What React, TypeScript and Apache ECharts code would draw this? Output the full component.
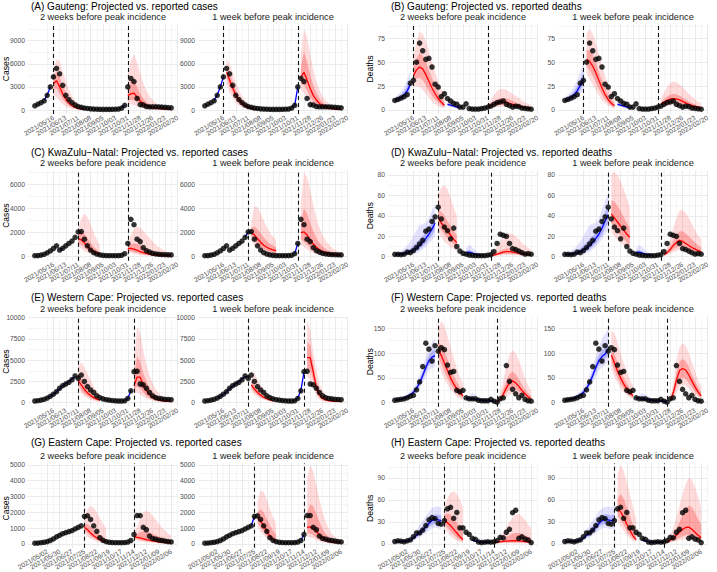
import React, { useEffect, useRef } from 'react';
import * as echarts from 'echarts';

type Seg = { start: number; rows: number[][] };
// rows: [median, lo50, hi50, lo95, hi95] (or [median] when no band is visible)
// week index 0 = 2021/04/04, one point per week (0..44)

const ticksAF = ['2021/05/16', '2021/06/13', '2021/07/11', '2021/08/08', '2021/09/05', '2021/10/03', '2021/10/31', '2021/11/28', '2021/12/26', '2022/01/23', '2022/02/20'];
const ticksGH = ['2021/05/02', '2021/05/30', '2021/06/27', '2021/07/25', '2021/08/22', '2021/09/19', '2021/10/17', '2021/11/14', '2021/12/12', '2022/01/09', '2022/02/06'];
const subTitles = ['2 weeks before peak incidence', '1 week before peak incidence'];

// ---------- reported data ----------
const A_reported = [550, 750, 950, 1200, 1900, 3000, 4300, 5400, 4700, 3200, 1900, 1350, 950, 650, 450, 350, 250, 200, 150, 120, 100, 90, 80, 80, 80, 90, 100, 120, 250, 600, 3000, 4100, 3700, 1500, 700, 650, 450, 420, 420, 420, 400, 380, 350, 320, 280];
const B_reported = [10, 11, 12.5, 14, 16, 28, 31, 50, 70, 62, 53, 54, 45, 27, 24, 14, 17, 12, 9.5, 7, 6, 3, 3, 6.5, 1.5, 1, 1, 1, 1.5, 2, 3, 4, 6, 7.7, 8.4, 9.4, 6, 4.5, 3, 4, 3.5, 2, 1.7, 1.2, 0.8];
const C_reported = [80, 90, 130, 200, 320, 480, 680, 900, 550, 700, 900, 1100, 1300, 1600, 2050, 2080, 1450, 900, 550, 330, 220, 150, 110, 90, 80, 80, 80, 90, 120, 250, 1100, 3100, 2650, 1450, 1250, 750, 500, 380, 280, 230, 200, 180, 170, 160, 150];
const D_reported = [2.3, 2.3, 2, 2.5, 4.5, 4, 6, 9, 12.5, 16, 25, 27, 34.5, 39, 48.5, 37, 29, 25.5, 17.5, 28, 10, 5.5, 3.3, 2.5, 1.6, 1.2, 1, 1, 1, 1, 1.5, 2, 5, 13, 22, 21, 20, 13, 8, 7, 5.5, 4, 2.6, 3, 2.5];
const E_reported = [200, 230, 300, 400, 550, 750, 1000, 1300, 1700, 2000, 2200, 2400, 2700, 3150, 2850, 3250, 2500, 1900, 1500, 1200, 800, 600, 450, 350, 300, 250, 220, 200, 200, 220, 500, 1400, 3650, 3700, 2200, 2100, 1700, 1200, 800, 600, 500, 450, 400, 380, 350];
const F_reported = [5, 6, 7, 8, 10, 13, 15, 26, 42, 73, 120, 108, 84, 115, 104, 111, 107, 76, 61, 63, 25, 22, 25, 10, 8, 8, 8, 5, 4, 4, 4, 7, 3, 1, 8, 10, 75, 43, 27, 18, 10, 15, 7, 4, 3];
const G_reported = [50, 60, 80, 110, 150, 220, 320, 450, 550, 650, 720, 780, 850, 950, 1050, 1150, 1750, 1780, 1550, 1150, 800, 400, 230, 150, 110, 90, 80, 80, 80, 90, 120, 220, 600, 1800, 1800, 1050, 900, 500, 350, 300, 250, 220, 180, 150, 130];
const H_reported = [3.4, 4.3, 3.8, 3, 4.3, 5.5, 10, 15, 15, 19, 25, 33, 36, 34.5, 28, 27, 32, 48, 50, 35, 43, 22, 22, 16, 13, 7.7, 6.4, 2.6, 2, 2.5, 3, 2.5, 3, 4.7, 9, 8.5, 16, 20, 42.6, 46, 7.7, 9.8, 6.8, 5.5, 2];

// ---------- (A) Gauteng cases ----------
const A2_fit1: Seg = { start: 3, rows: [[1250], [1950], [3000]] };
const A2_fit2: Seg = { start: 28, rows: [[250], [600]] };
const A2_proj1: Seg = { start: 6, rows: [[3400, 2700, 4300, 1900, 5200], [3800, 2800, 5000, 1700, 6600], [3000, 2100, 4300, 1200, 6300], [2100, 1400, 3200, 750, 5000], [1400, 900, 2300, 450, 3800], [900, 550, 1500, 270, 2700], [550, 320, 1000, 150, 1800], [330, 190, 650, 90, 1200], [200, 110, 400, 50, 800], [120, 70, 250, 30, 500], [80, 40, 170, 20, 350]] };
const A2_proj2: Seg = { start: 30, rows: [[1900, 1300, 2700, 800, 4500], [2100, 1300, 3800, 700, 6500], [2200, 1300, 4000, 650, 7300], [1700, 1000, 3000, 500, 6200], [1200, 700, 2100, 350, 4800], [850, 480, 1500, 240, 3500], [600, 330, 1050, 160, 2500], [430, 230, 750, 110, 1800], [320, 170, 550, 80, 1300], [240, 120, 400, 60, 950], [180, 90, 300, 45, 700], [140, 70, 230, 35, 520], [110, 55, 180, 28, 400], [90, 45, 140, 22, 300], [70, 35, 110, 18, 230]] };
const A1_fit1: Seg = { start: 3, rows: [[1250], [1950], [3000], [4300]] };
const A1_fit2: Seg = { start: 28, rows: [[250], [600], [3000]] };
const A1_proj1: Seg = { start: 7, rows: [[4900, 4200, 5700, 3300, 6600], [3900, 3100, 4800, 2300, 6000], [2900, 2200, 3700, 1500, 4800], [1950, 1450, 2600, 950, 3600], [1300, 920, 1800, 600, 2600], [850, 580, 1200, 370, 1800], [530, 360, 780, 230, 1200], [340, 220, 500, 140, 800], [210, 135, 320, 85, 520], [130, 85, 200, 50, 340], [80, 50, 130, 30, 220]] };
const A1_proj2: Seg = { start: 31, rows: [[4300, 3300, 5600, 2500, 7500], [4900, 3300, 7600, 2200, 10500], [3900, 2500, 6300, 1600, 9500], [2800, 1700, 4600, 1050, 7200], [1900, 1100, 3200, 680, 5200], [1300, 720, 2200, 440, 3700], [850, 470, 1500, 280, 2600], [570, 300, 1000, 180, 1800], [380, 200, 680, 120, 1250], [260, 130, 460, 78, 870], [180, 90, 310, 52, 600], [130, 62, 220, 36, 420], [95, 45, 150, 26, 300], [70, 33, 110, 19, 220]] };

// ---------- (B) Gauteng deaths ----------
const B2_fit1: Seg = { start: 0, rows: [[10, 8.5, 11.5, 7, 13], [11.5, 9.5, 13.5, 8, 16], [13, 11, 16, 9, 19], [16, 13, 20, 10, 24], [20, 16, 25, 13, 31], [27, 22, 33, 17, 42]] };
const B_fitMid: Seg = { start: 17, rows: [[6, 5, 7.5, 3.5, 10], [5, 4, 6.5, 3, 9], [4, 3, 5, 2, 7], [3, 2.3, 4, 1.5, 5.5], [2.5, 1.8, 3.2, 1.2, 4.5]] };
const B2_proj1: Seg = { start: 6, rows: [[36, 30, 44, 24, 55], [42, 33, 54, 25, 72], [45, 34, 60, 24, 82], [43, 31, 57, 21, 80], [37, 26, 50, 17, 72], [30, 20, 42, 13, 62], [23, 15, 33, 9, 50], [17, 11, 25, 6, 40], [12, 7.5, 18, 4, 30], [8, 5, 13, 2.5, 22], [5, 3, 9, 1.5, 16]] };
const B2_proj2: Seg = { start: 30, rows: [[3, 2.3, 4, 1.5, 6], [4.5, 3, 6.5, 2, 11], [6, 4, 9, 2.5, 16], [7.5, 5, 11, 3, 20], [8.5, 5.5, 12.5, 3.3, 22], [8.5, 5.5, 12.5, 3.3, 22], [8, 5, 12, 3, 21], [7, 4.5, 11, 2.6, 19], [6, 3.8, 9.5, 2.2, 17], [5, 3, 8, 1.8, 15], [4, 2.4, 6.5, 1.4, 12.5], [3.2, 1.9, 5.2, 1.1, 10], [2.5, 1.5, 4.2, 0.8, 8], [2, 1.1, 3.4, 0.6, 6.5], [1.5, 0.8, 2.7, 0.4, 5]] };
const B1_fit1: Seg = { start: 0, rows: [[10, 8.5, 11.5, 7, 13], [11.5, 9.5, 13.5, 8, 16], [13, 11, 16, 9, 19], [16, 13, 20, 10, 25], [20, 16, 25, 13, 31], [26, 21, 32, 17, 40], [32, 26, 40, 20, 50]] };
const B1_proj1: Seg = { start: 7, rows: [[53, 45, 62, 38, 80], [51, 42, 63, 33, 85], [46, 36, 58, 27, 80], [39, 29, 49, 21, 70], [31, 22, 40, 15, 58], [23, 16, 31, 10.5, 46], [16, 11, 23, 7, 35], [11, 7, 16, 4.5, 26], [7, 4.5, 11, 2.8, 19], [4.5, 2.8, 7.5, 1.6, 13]] };
const B1_proj2: Seg = { start: 31, rows: [[6, 4.5, 7.5, 3.5, 12], [8, 5.5, 11, 4, 18], [10, 6.5, 14, 4.5, 24], [11.5, 7.3, 16, 5, 28], [12, 7.5, 17, 5, 30], [11.5, 7.2, 16.5, 4.7, 29], [10.5, 6.5, 15, 4.2, 27], [9, 5.5, 13, 3.6, 24], [7.5, 4.5, 11, 2.9, 21], [6, 3.6, 9, 2.3, 17], [4.8, 2.8, 7.2, 1.8, 14], [3.8, 2.2, 5.7, 1.4, 11], [3, 1.7, 4.5, 1.1, 8.5], [2.3, 1.3, 3.5, 0.8, 6.5]] };

// ---------- (C) KwaZulu-Natal cases ----------
const C2_fit1: Seg = { start: 8, rows: [[560], [700]] };
const C2_proj1: Seg = { start: 14, rows: [[1500, 1150, 2000, 850, 2200], [1400, 1000, 2100, 650, 3200], [1150, 780, 1900, 480, 3550], [850, 560, 1550, 330, 3300], [600, 390, 1150, 220, 2700], [420, 270, 830, 150, 2000], [300, 185, 580, 100, 1400], [210, 125, 400, 65, 950]] };
const C2_proj2: Seg = { start: 30, rows: [[650, 480, 850, 350, 1100], [700, 450, 1050, 300, 1800], [620, 380, 1100, 240, 2300], [520, 300, 1050, 185, 2500], [420, 240, 930, 140, 2400], [340, 185, 800, 105, 2150], [270, 145, 660, 80, 1850], [220, 115, 540, 62, 1550], [180, 92, 440, 48, 1250], [150, 74, 360, 38, 1000], [120, 60, 290, 30, 800], [100, 48, 235, 24, 630], [85, 39, 190, 19, 500], [70, 32, 155, 15, 400], [60, 26, 125, 12, 320]] };
const C1_fit1: Seg = { start: 13, rows: [[1600], [2050]] };
const C1_fit2: Seg = { start: 29, rows: [[250], [1100]] };
const C1_proj1: Seg = { start: 15, rows: [[2000, 1650, 2400, 1350, 2900], [1800, 1350, 2500, 1000, 4200], [1500, 1050, 2300, 720, 4100], [1200, 800, 1950, 520, 3600], [950, 620, 1600, 390, 3000], [780, 490, 1300, 300, 2450], [650, 400, 1080, 240, 2000], [560, 330, 920, 200, 1650], [500, 290, 800, 170, 1400]] };
const C1_proj2: Seg = { start: 31, rows: [[2000, 1400, 3000, 1000, 4500], [2050, 1250, 4000, 800, 7000], [1800, 1000, 3600, 600, 6600], [1400, 750, 2800, 430, 5500], [1050, 540, 2100, 300, 4300], [780, 390, 1550, 215, 3200], [570, 280, 1150, 155, 2400], [420, 205, 850, 115, 1800], [320, 155, 630, 88, 1350], [250, 120, 480, 68, 1000], [200, 95, 370, 54, 760], [165, 78, 290, 44, 580], [140, 65, 230, 37, 450], [120, 55, 185, 31, 350]] };

// ---------- (D) KwaZulu-Natal deaths ----------
const D2_fit1: Seg = { start: 0, rows: [[2, 1.5, 2.5, 1, 3.5], [2.2, 1.6, 3, 1, 4.5], [2.5, 1.8, 3.5, 1.2, 6], [3, 2, 4.5, 1.3, 8], [3.8, 2.6, 6, 1.6, 11], [5, 3.3, 8, 2, 15], [6.5, 4.3, 11, 2.6, 20], [8.5, 5.8, 14, 3.5, 26], [11, 7.5, 17, 5, 31], [14, 10, 20, 7, 32], [18, 13, 24, 10, 33], [22, 17, 28, 13, 38], [27, 21, 34, 16, 45], [33, 26, 41, 20, 52]] };
const D_fitMid: Seg = { start: 23, rows: [[4, 3, 5.5, 2, 8], [4.5, 3.2, 6.5, 2, 12], [3.5, 2.5, 5, 1.6, 9], [2.5, 1.8, 3.5, 1.2, 6], [1.8, 1.3, 2.5, 0.9, 4], [1.3, 0.9, 1.8, 0.6, 3]] };
const D2_proj1: Seg = { start: 14, rows: [[38, 31, 46, 24, 60], [33, 26, 44, 19, 68], [29, 22, 40, 15, 70], [25, 18, 35, 12, 66], [21, 15, 30, 9.5, 58], [17, 12, 25, 7.5, 48], [14, 9.5, 21, 5.5, 40]] };
const D2_proj2: Seg = { start: 31, rows: [[1, 0.6, 1.5, 0.3, 2], [1.5, 0.9, 2.5, 0.5, 5], [2.5, 1.4, 4, 0.8, 10], [3.5, 2, 5.5, 1.1, 15], [4.5, 2.6, 7, 1.5, 19], [5, 3, 8, 1.7, 22], [5, 3, 8, 1.7, 23], [4.5, 2.7, 7.5, 1.5, 22], [4, 2.4, 7, 1.3, 20], [3.5, 2, 6, 1.1, 17], [3, 1.7, 5, 0.9, 14], [2.5, 1.4, 4.2, 0.7, 11], [2, 1.1, 3.4, 0.6, 9], [1.6, 0.9, 2.7, 0.5, 7]] };
const D1_fit1: Seg = { start: 0, rows: [[2, 1.5, 2.5, 1, 3.5], [2.2, 1.6, 3, 1, 4.5], [2.5, 1.8, 3.5, 1.2, 6], [3, 2, 4.5, 1.3, 8], [3.8, 2.6, 6, 1.6, 11], [5, 3.3, 8, 2, 15], [6.5, 4.3, 11, 2.6, 20], [8.5, 5.8, 14, 3.5, 26], [11, 7.5, 17, 5, 31], [14, 10, 20, 7, 32], [18, 13, 24, 10, 33], [22, 17, 28, 13, 38], [28, 21, 35, 17, 46], [35, 28, 44, 22, 55], [41, 33, 50, 26, 61]] };
const D1_proj1: Seg = { start: 15, rows: [[42, 33, 55, 24, 82], [38, 29, 54, 20, 83], [34, 25, 50, 16.5, 80], [30, 21, 45, 13.5, 74], [26, 17.5, 39, 11, 66], [22, 14, 33, 8.5, 57], [19, 11.5, 28, 6.5, 48]] };
const D1_proj2: Seg = { start: 32, rows: [[2, 1.3, 3, 0.8, 4], [4, 2.5, 6, 1.5, 9], [7, 4.5, 10, 2.8, 17], [11, 7, 16, 4.3, 28], [14, 9, 21, 5.5, 38], [16, 10.5, 25, 6.5, 45], [15, 10, 25, 6.5, 46], [13, 9, 23, 5.8, 43], [11, 7.5, 20, 5, 38], [9, 6.3, 17, 4.2, 32], [7.5, 5.2, 14, 3.4, 26], [6, 4.2, 11, 2.8, 21], [5, 3.4, 9, 2.2, 17]] };

// ---------- (E) Western Cape cases ----------
const E2_fit1: Seg = { start: 4, rows: [[560], [760], [1000], [1300], [1650], [1950], [2250], [2500], [2800], [3050]] };
const E2_fit2: Seg = { start: 29, rows: [[230], [500], [1400]] };
const E2_proj1: Seg = { start: 14, rows: [[2600, 2100, 3200, 1700, 4200], [2100, 1500, 2900, 1100, 4800], [1550, 1050, 2300, 750, 4200], [1150, 750, 1750, 520, 3400], [850, 530, 1300, 350, 2600], [600, 370, 950, 240, 1900], [430, 260, 680, 160, 1400], [300, 180, 480, 110, 1000]] };
const E2_proj2: Seg = { start: 32, rows: [[2000, 1500, 2800, 1100, 4500], [3000, 1900, 5500, 1200, 9000], [3000, 1700, 4800, 1000, 8200], [2100, 1200, 3500, 700, 6200], [1400, 800, 2500, 470, 4500], [950, 540, 1750, 320, 3200], [650, 370, 1250, 220, 2300], [450, 260, 880, 155, 1600], [330, 185, 620, 110, 1150], [250, 135, 450, 80, 820], [200, 100, 330, 60, 600], [160, 78, 250, 46, 450], [130, 60, 190, 36, 340]] };
const E1_fit1: Seg = { start: 4, rows: [[560], [760], [1000], [1300], [1650], [1950], [2250], [2500], [2800], [3050], [3150]] };
const E1_fit2: Seg = { start: 29, rows: [[230], [550], [1450], [3600]] };
const E1_proj1: Seg = { start: 15, rows: [[2100, 1700, 2600, 1350, 3700], [1600, 1250, 2100, 950, 3500], [1200, 900, 1600, 680, 2800], [880, 650, 1200, 480, 2100], [640, 460, 880, 340, 1550], [460, 330, 640, 240, 1150], [330, 235, 460, 170, 850], [240, 170, 330, 120, 620]] };
const E1_proj2: Seg = { start: 33, rows: [[5300, 4000, 7200, 3000, 9700], [5300, 3900, 6800, 2800, 8500], [3600, 2600, 4600, 1800, 6000], [1800, 1200, 2500, 800, 3800], [900, 560, 1400, 360, 2300], [500, 300, 800, 190, 1400], [330, 190, 520, 120, 900], [250, 140, 370, 90, 620], [200, 110, 280, 70, 450], [170, 95, 230, 60, 340], [150, 85, 190, 52, 270], [130, 75, 160, 45, 220]] };

// ---------- (F) Western Cape deaths ----------
const F2_fit1: Seg = { start: 0, rows: [[5, 4, 6, 3, 7.5], [6, 5, 7.5, 4, 9], [7.5, 6, 9, 5, 11], [9.5, 7.5, 11.5, 6, 14], [12, 10, 14.5, 8, 18], [16, 13, 19, 11, 23], [21, 17, 25, 14, 30], [29, 24, 34, 20, 40], [40, 34, 47, 28, 55], [55, 47, 63, 40, 73], [71, 62, 80, 53, 92], [85, 75, 96, 65, 110], [92, 81, 104, 70, 122], [95, 84, 108, 73, 130]] };
const F_fitMid2w: Seg = { start: 23, rows: [[9, 7.5, 11, 6, 14], [8.5, 7, 10.5, 5.5, 14], [8, 6.5, 10, 5, 20], [7, 5.5, 9, 4.3, 16], [6, 4.8, 7.5, 3.7, 11], [5, 4, 6.5, 3, 9], [4.5, 3.5, 5.5, 2.7, 7.5], [4, 3, 5, 2.3, 6.5], [3.5, 2.7, 4.5, 2, 6], [3, 2.3, 4, 1.7, 5]] };
const F2_proj1: Seg = { start: 14, rows: [[106, 92, 122, 78, 150], [95, 78, 117, 62, 165], [80, 63, 104, 48, 155], [65, 49, 88, 36, 135], [50, 37, 70, 26, 112], [38, 27, 55, 18, 90], [28, 19, 42, 12, 70], [20, 13, 31, 8, 52], [14, 9, 22, 5.5, 38]] };
const F2_proj2: Seg = { start: 33, rows: [[2, 1.3, 3, 0.8, 4], [7, 4.5, 11, 2.5, 18], [17, 11, 27, 6, 45], [30, 20, 45, 11, 75], [40, 27, 58, 16, 97], [44, 30, 63, 18, 106], [40, 27, 58, 16, 100], [33, 22, 48, 13, 86], [25, 16, 37, 9.5, 68], [18, 11.5, 27, 6.8, 50], [12, 7.5, 19, 4.5, 35], [8, 5, 13, 3, 24]] };
const F1_fit1: Seg = { start: 0, rows: [[5, 4, 6, 3, 7.5], [6, 5, 7.5, 4, 9], [7.5, 6, 9, 5, 11], [9.5, 7.5, 11.5, 6, 14], [12, 10, 14.5, 8, 18], [16, 13, 19, 11, 23], [21, 17, 25, 14, 30], [29, 24, 34, 20, 40], [40, 34, 47, 28, 55], [55, 47, 63, 40, 73], [71, 62, 80, 53, 92], [85, 75, 96, 65, 112], [93, 82, 105, 71, 128], [98, 87, 110, 76, 140], [108, 96, 121, 84, 148]] };
const F_fitMid1w: Seg = { start: 23, rows: [[9, 7.5, 11, 6, 14], [8.5, 7, 10.5, 5.5, 14], [8, 6.5, 10, 5, 20], [7, 5.5, 9, 4.3, 16], [6, 4.8, 7.5, 3.7, 11], [5, 4, 6.5, 3, 9], [4.5, 3.5, 5.5, 2.7, 7.5], [4, 3, 5, 2.3, 6.5], [3.5, 2.7, 4.5, 2, 6], [3, 2.3, 4, 1.7, 5], [2.5, 1.8, 3.5, 1.3, 4.5]] };
const F1_proj1: Seg = { start: 15, rows: [[96, 82, 110, 68, 145], [80, 66, 98, 53, 140], [64, 51, 82, 40, 122], [50, 38, 66, 29, 100], [38, 28, 51, 21, 80], [28, 20, 39, 14.5, 62], [20, 14, 29, 10, 47], [14, 9.5, 21, 6.5, 35]] };
const F1_proj2: Seg = { start: 34, rows: [[5, 3, 7, 2, 10], [20, 13, 28, 8, 40], [45, 31, 60, 20, 85], [65, 47, 83, 32, 112], [69, 51, 88, 36, 120], [66, 48, 84, 34, 115], [56, 40, 72, 28, 100], [44, 31, 57, 21, 82], [32, 22, 43, 15, 63], [22, 15, 31, 10, 46], [14, 9.5, 21, 6.5, 33]] };

// ---------- (G) Eastern Cape cases ----------
const G2_proj1: Seg = { start: 16, rows: [[1050, 850, 1300, 650, 1700], [900, 680, 1250, 480, 2200], [700, 500, 1100, 330, 2400], [520, 360, 900, 230, 2300], [380, 250, 720, 160, 2000], [270, 175, 560, 110, 1650], [190, 120, 420, 75, 1300], [130, 85, 310, 50, 1000]] };
const G2_proj2: Seg = { start: 32, rows: [[450, 350, 550, 280, 700], [420, 300, 650, 220, 1100], [380, 250, 750, 170, 1600], [330, 210, 800, 140, 2000], [280, 175, 780, 110, 2100], [240, 145, 720, 90, 2000], [200, 120, 640, 72, 1800], [170, 100, 560, 58, 1550], [140, 82, 480, 47, 1300], [120, 68, 400, 38, 1050], [100, 56, 330, 31, 850], [85, 46, 270, 25, 680], [70, 38, 220, 20, 540]] };
const G1_fit1: Seg = { start: 15, rows: [[1150], [1750]] };
const G1_fit2: Seg = { start: 31, rows: [[220], [600]] };
const G1_proj1: Seg = { start: 17, rows: [[1650, 1350, 2000, 1100, 2700], [1450, 1050, 2200, 800, 3400], [1150, 750, 2000, 550, 3300], [800, 480, 1600, 340, 2800], [500, 290, 1200, 200, 2200], [300, 175, 850, 115, 1700], [180, 105, 600, 70, 1300]] };
const G1_proj2: Seg = { start: 33, rows: [[1050, 700, 2000, 500, 4200], [1080, 650, 2500, 420, 5000], [1000, 550, 2400, 340, 4600], [800, 400, 1900, 240, 3700], [580, 270, 1400, 160, 2800], [400, 180, 950, 105, 2000], [270, 120, 650, 70, 1400], [190, 82, 440, 48, 950], [140, 58, 300, 34, 650], [110, 43, 210, 25, 450], [90, 33, 150, 19, 320], [75, 26, 110, 15, 230]] };

// ---------- (H) Eastern Cape deaths ----------
const H2_fit1: Seg = { start: 0, rows: [[3, 2.5, 3.6, 2, 4.3], [3.2, 2.6, 3.9, 2.1, 4.8], [3.4, 2.7, 4.2, 2.2, 5.5], [3.6, 2.8, 4.6, 2.2, 6.2], [4.2, 3.2, 5.5, 2.5, 7.5], [5.5, 4.2, 7.2, 3.2, 10], [8, 6, 10.5, 4.5, 14], [11.5, 9, 15, 7, 20], [15, 12, 19.5, 9, 26], [19, 15, 24, 12, 32], [23.5, 19, 29, 15, 38], [28, 23, 34, 18, 44], [32, 26, 38, 21, 49], [34, 28, 41, 22, 51], [33, 27, 40, 21, 51], [32, 26, 39, 20, 50]] };
const H_fitMid2w: Seg = { start: 25, rows: [[5, 4, 6.5, 3, 9], [4, 3, 5, 2.3, 7.5], [3, 2.3, 4, 1.7, 8], [2.5, 1.9, 3.2, 1.4, 6], [2.2, 1.7, 2.8, 1.2, 4.5], [2.2, 1.7, 2.8, 1.2, 4], [2.4, 1.8, 3, 1.3, 4]] };
const H2_proj1: Seg = { start: 16, rows: [[33, 27, 40, 22, 50], [29, 22, 42, 16, 62], [25, 17, 40, 11, 70], [20, 12.5, 35, 7, 72], [15, 8.5, 29, 4.5, 68], [10, 5.5, 22, 2.8, 60], [6, 3.5, 16, 1.8, 50]] };
const H2_proj2: Seg = { start: 32, rows: [[2.2, 1.6, 2.8, 1.1, 3.5], [2.5, 1.7, 3.5, 1.1, 6], [3, 1.9, 5, 1.1, 10], [3.5, 2, 7, 1.1, 16], [4, 2.1, 9.5, 1.1, 23], [4.2, 2.1, 12, 1.1, 30], [4.4, 2.1, 14, 1.1, 36], [4.4, 2, 15, 1, 40], [4.2, 1.9, 15, 0.9, 41], [3.8, 1.7, 14, 0.8, 38], [3.3, 1.5, 12, 0.7, 33], [2.8, 1.3, 10, 0.6, 27], [2.2, 1, 8, 0.5, 22]] };
const H1_fit1: Seg = { start: 0, rows: [[3, 2.5, 3.6, 2, 4.3], [3.2, 2.6, 3.9, 2.1, 4.8], [3.4, 2.7, 4.2, 2.2, 5.5], [3.6, 2.8, 4.6, 2.2, 6.2], [4.2, 3.2, 5.5, 2.5, 7.5], [5.5, 4.2, 7.2, 3.2, 10], [8, 6, 10.5, 4.5, 14], [11.5, 9, 15, 7, 20], [15, 12, 19.5, 9, 26], [19, 15, 24, 12, 32], [23.5, 19, 29, 15, 38], [28, 23, 34, 18, 44], [32, 26, 38, 21, 49], [34, 28, 41, 22, 51], [33, 27, 40, 21, 51], [32, 26, 39, 20, 50], [33, 27, 41, 21, 52]] };
const H_fitMid1w: Seg = { start: 25, rows: [[5, 4, 6.5, 3, 9], [4, 3, 5, 2.3, 7.5], [3, 2.3, 4, 1.7, 8], [2.5, 1.9, 3.2, 1.4, 6], [2.2, 1.7, 2.8, 1.2, 4.5], [2.2, 1.7, 2.8, 1.2, 4], [2.4, 1.8, 3, 1.3, 4], [2.6, 1.9, 3.3, 1.4, 4.5]] };
const H1_proj1: Seg = { start: 17, rows: [[47, 38, 62, 31, 95], [44, 33, 68, 25, 108], [36, 26, 62, 18, 100], [27, 18, 50, 12, 85], [19, 11.5, 38, 7, 68], [11, 7, 26, 4, 50], [6, 4, 16, 2.3, 35]] };
const H1_proj2: Seg = { start: 33, rows: [[3, 2, 4, 1.3, 6], [5, 3, 7.5, 2, 12], [8, 4.5, 13, 2.8, 22], [12, 6.5, 21, 4, 36], [16, 8.5, 30, 5, 52], [20, 10.5, 40, 6, 68], [22.5, 12, 48, 6.5, 82], [23, 12, 52, 6.5, 90], [20, 10.5, 50, 5.8, 88], [16, 8.5, 43, 4.8, 78], [12, 6.5, 34, 3.7, 64], [8.5, 4.8, 26, 2.8, 50]] };

type Sub = { fits: Seg[]; projs: Seg[] };
type Panel = {
  title: string; yName: string; row: number; col: number; reported: number[];
  ticks: string[]; tickStart: number; dashed: number[]; yStep: number; yRange: number[]; subs: Sub[];
};

const panels: Panel[] = [
  { title: '(A) Gauteng: Projected vs. reported cases', yName: 'Cases', row: 0, col: 0, reported: A_reported, ticks: ticksAF, tickStart: 6, dashed: [6, 30], yStep: 3000, yRange: [-519, 11169],
    subs: [{ fits: [A2_fit1, A2_fit2], projs: [A2_proj1, A2_proj2] }, { fits: [A1_fit1, A1_fit2], projs: [A1_proj1, A1_proj2] }] },
  { title: '(B) Gauteng: Projected vs. reported deaths', yName: 'Deaths', row: 0, col: 1, reported: B_reported, ticks: ticksAF, tickStart: 6, dashed: [6, 30], yStep: 25, yRange: [-4.2, 90],
    subs: [{ fits: [B2_fit1, B_fitMid], projs: [B2_proj1, B2_proj2] }, { fits: [B1_fit1, B_fitMid], projs: [B1_proj1, B1_proj2] }] },
  { title: '(C) KwaZulu\u2212Natal: Projected vs. reported cases', yName: 'Cases', row: 1, col: 0, reported: C_reported, ticks: ticksAF, tickStart: 6, dashed: [14, 30], yStep: 2000, yRange: [-331, 7127],
    subs: [{ fits: [C2_fit1], projs: [C2_proj1, C2_proj2] }, { fits: [C1_fit1, C1_fit2], projs: [C1_proj1, C1_proj2] }] },
  { title: '(D) KwaZulu\u2212Natal: Projected vs. reported deaths', yName: 'Deaths', row: 1, col: 1, reported: D_reported, ticks: ticksAF, tickStart: 6, dashed: [14, 31], yStep: 20, yRange: [-3.9, 84.2],
    subs: [{ fits: [D2_fit1, D_fitMid], projs: [D2_proj1, D2_proj2] }, { fits: [D1_fit1, D_fitMid], projs: [D1_proj1, D1_proj2] }] },
  { title: '(E) Western Cape: Projected vs. reported cases', yName: 'Cases', row: 2, col: 0, reported: E_reported, ticks: ticksAF, tickStart: 6, dashed: [14, 32], yStep: 2500, yRange: [-471, 10118],
    subs: [{ fits: [E2_fit1, E2_fit2], projs: [E2_proj1, E2_proj2] }, { fits: [E1_fit1, E1_fit2], projs: [E1_proj1, E1_proj2] }] },
  { title: '(F) Western Cape: Projected vs. reported deaths', yName: 'Deaths', row: 2, col: 1, reported: F_reported, ticks: ticksAF, tickStart: 6, dashed: [14, 33], yStep: 50, yRange: [-8, 173.4],
    subs: [{ fits: [F2_fit1, F_fitMid2w], projs: [F2_proj1, F2_proj2] }, { fits: [F1_fit1, F_fitMid1w], projs: [F1_proj1, F1_proj2] }] },
  { title: '(G) Eastern Cape: Projected vs. reported cases', yName: 'Cases', row: 3, col: 0, reported: G_reported, ticks: ticksGH, tickStart: 4, dashed: [16, 32], yStep: 1000, yRange: [-237, 5101],
    subs: [{ fits: [], projs: [G2_proj1, G2_proj2] }, { fits: [G1_fit1, G1_fit2], projs: [G1_proj1, G1_proj2] }] },
  { title: '(H) Eastern Cape: Projected vs. reported deaths', yName: 'Deaths', row: 3, col: 1, reported: H_reported, ticks: ticksGH, tickStart: 4, dashed: [16, 32], yStep: 30, yRange: [-5.1, 110],
    subs: [{ fits: [H2_fit1, H_fitMid2w], projs: [H2_proj1, H2_proj2] }, { fits: [H1_fit1, H_fitMid1w], projs: [H1_proj1, H1_proj2] }] },
];

// ---------- layout / style ----------
const FONT = '"Liberation Sans", Arial, Helvetica, sans-serif';
const COL_X = [28, 388];
const SUB_DX = 170;
const PW = 150;
const PH = 90;
const ROW_ZERO = [110, 256.7, 402.7, 549.3];
const TITLE_Y = [6.5, 152, 297.7, 442.5];
const SUB_Y = [16.8, 163, 309, 455.5];
const XMIN = -2.2;
const XMAX = 46.2;
const RED = '#FF0000';
const BLUE = '#0000FF';
const RED_OUT = 'rgba(255,0,0,0.14)';
const RED_IN = 'rgba(255,0,0,0.24)';
const BLUE_OUT = 'rgba(0,0,255,0.11)';
const BLUE_IN = 'rgba(0,0,255,0.2)';
const GRID_MAJOR = '#E5E5E5';
const GRID_MINOR = '#F2F2F2';

function bandSeries(g: number, seg: Seg, loIdx: number, hiIdx: number, fill: string) {
  const pts = seg.rows.map((r, k) => [seg.start + k, r[loIdx], r[hiIdx]]);
  return {
    type: 'custom', xAxisIndex: g, yAxisIndex: g, silent: true, z: 1, clip: true,
    data: pts,
    encode: { x: 0, y: [1, 2] },
    renderItem: (params: any, api: any) => {
      if (params.dataIndex !== 0) return { type: 'group', children: [] };
      const up = pts.map((d) => api.coord([d[0], d[2]]));
      const dn = pts.slice().reverse().map((d) => api.coord([d[0], d[1]]));
      return { type: 'polygon', shape: { points: up.concat(dn) }, style: { fill, stroke: null } };
    },
  };
}

function segSeries(g: number, seg: Seg, color: string, outFill: string, inFill: string) {
  const out: any[] = [];
  if (seg.rows[0].length === 5) {
    out.push(bandSeries(g, seg, 3, 4, outFill));
    out.push(bandSeries(g, seg, 1, 2, inFill));
  }
  out.push({
    type: 'line', xAxisIndex: g, yAxisIndex: g, silent: true, z: 2,
    data: seg.rows.map((r, k) => [seg.start + k, r[0]]),
    showSymbol: false, symbol: 'none',
    lineStyle: { color, width: 1.3 },
  });
  return out;
}

function buildOption() {
  const grid: any[] = [];
  const xAxis: any[] = [];
  const yAxis: any[] = [];
  const series: any[] = [];
  const elements: any[] = [];
  let g = 0;
  panels.forEach((p) => {
    const zero = ROW_ZERO[p.row];
    const top = zero - 86;
    const colX = COL_X[p.col];
    elements.push({
      type: 'text', x: colX + 3, y: TITLE_Y[p.row], silent: true,
      style: { text: p.title, fill: '#000', font: `10px ${FONT}`, textVerticalAlign: 'middle', verticalAlign: 'middle' },
    });
    elements.push({
      type: 'text', x: colX - (p.col === 0 ? 22 : 18), y: zero - 41, rotation: Math.PI / 2, silent: true,
      style: { text: p.yName, fill: '#000', font: `8.6px ${FONT}`, textAlign: 'center', align: 'center', textVerticalAlign: 'middle', verticalAlign: 'middle' },
    });
    // label positions: the real ticks plus two blank guard labels at the axis ends
    const xMajor = [XMIN, ...p.ticks.map((_, k) => p.tickStart + 4 * k), XMAX];
    const xGrid: number[] = [];
    for (let v = p.tickStart - 2; v <= XMAX; v += 2) if (v >= XMIN) xGrid.push(v);
    const yMajor: number[] = [];
    for (let v = 0; v <= p.yRange[1]; v += p.yStep) yMajor.push(v);
    const yGrid: number[] = [];
    for (let v = 0; v <= p.yRange[1]; v += p.yStep / 2) yGrid.push(v);

    p.subs.forEach((sub, s) => {
      const left = colX + s * SUB_DX;
      elements.push({
        type: 'text', x: left + PW / 2, y: SUB_Y[p.row], silent: true,
        style: { text: subTitles[s], fill: '#1A1A1A', font: `9.2px ${FONT}`, textAlign: 'center', align: 'center', textVerticalAlign: 'middle', verticalAlign: 'middle' },
      });
      grid.push({ left, top, width: PW, height: PH, containLabel: false });
      xAxis.push({
        gridIndex: g, type: 'value', min: XMIN, max: XMAX,
        axisLine: { show: false },
        axisTick: { show: false, customValues: xGrid },
        axisLabel: {
          customValues: xMajor, interval: 0, rotate: 30, fontSize: 6.7, color: '#4D4D4D', fontFamily: FONT, margin: 3,
          showMinLabel: false, showMaxLabel: false, hideOverlap: false,
          formatter: (v: number) => {
            const k = (v - p.tickStart) / 4;
            return Number.isInteger(k) && p.ticks[k] ? p.ticks[k] : '';
          },
        },
        splitLine: { show: true, lineStyle: { color: [GRID_MINOR, GRID_MAJOR], width: 0.8 } },
        minorSplitLine: { show: false },
      });
      yAxis.push({
        gridIndex: g, type: 'value', min: p.yRange[0], max: p.yRange[1],
        axisLine: { show: false },
        axisTick: { show: false, customValues: yGrid },
        axisLabel: {
          customValues: yMajor, fontSize: 6.7, color: '#4D4D4D', fontFamily: FONT, margin: 3,
          showMinLabel: true, showMaxLabel: true,
          formatter: (v: number) => String(v),
        },
        splitLine: { show: true, lineStyle: { color: [GRID_MAJOR, GRID_MINOR], width: 0.8 } },
      });
      sub.fits.forEach((seg) => series.push(...segSeries(g, seg, BLUE, BLUE_OUT, BLUE_IN)));
      sub.projs.forEach((seg) => series.push(...segSeries(g, seg, RED, RED_OUT, RED_IN)));
      series.push({
        type: 'scatter', xAxisIndex: g, yAxisIndex: g, silent: true, z: 4,
        data: p.reported.map((v, i) => [i, v]),
        symbol: 'circle', symbolSize: 5.5,
        itemStyle: { color: '#000' },
        markLine: {
          silent: true, symbol: ['none', 'none'], label: { show: false },
          lineStyle: { color: '#111', width: 1.1, type: [4, 3] },
          data: p.dashed.map((v) => ({ xAxis: v })),
        },
      });
      g++;
    });
  });
  return {
    animation: false,
    backgroundColor: '#FFFFFF',
    grid, xAxis, yAxis, series,
    graphic: { elements },
  };
}

export default function App() {
  const ref = useRef<HTMLDivElement>(null);
  useEffect(() => {
    const chart = echarts.init(ref.current!, null, { renderer: 'svg' });
    chart.setOption(buildOption() as any);
    return () => chart.dispose();
  }, []);
  return <div ref={ref} style={{ position: 'absolute', left: 0, top: 0, width: 717, height: 572 }} />;
}
